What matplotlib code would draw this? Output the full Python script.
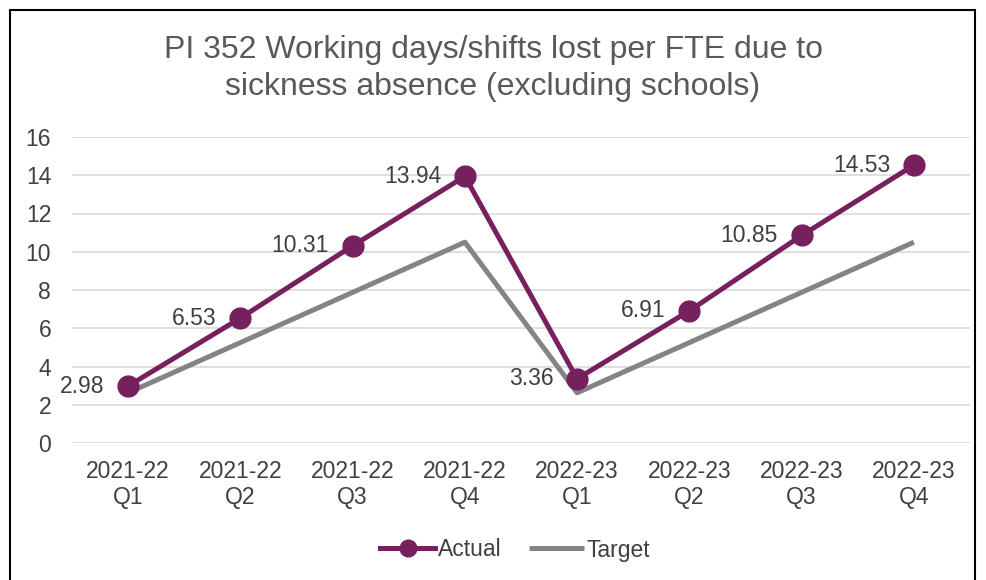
import matplotlib
matplotlib.use("Agg")
import matplotlib.pyplot as plt
from matplotlib.patches import Rectangle

plt.rcParams['font.family'] = ['Liberation Sans', 'DejaVu Sans']

categories = ["2021-22\nQ1", "2021-22\nQ2", "2021-22\nQ3", "2021-22\nQ4",
              "2022-23\nQ1", "2022-23\nQ2", "2022-23\nQ3", "2022-23\nQ4"]
actual = [2.98, 6.53, 10.31, 13.94, 3.36, 6.91, 10.85, 14.53]
target = [2.625, 5.25, 7.875, 10.5, 2.625, 5.25, 7.875, 10.5]
yticks = [0, 2, 4, 6, 8, 10, 12, 14, 16]

purple = "#76205e"
gray = "#848484"
txt = "#404040"
fs = 16.5

fig = plt.figure(figsize=(9.86, 5.8), dpi=100)
fig.patch.set_facecolor("white")
fig.patches.append(Rectangle((10/986, -0.1), 965/986, 1 - 10/580 + 0.1,
                             transform=fig.transFigure, fill=False,
                             edgecolor="black", linewidth=1.5))

ax = fig.add_axes([72/986, 1 - 443/580, 898/986, 306/580])
x = list(range(len(categories)))
ax.plot(x, actual, color=purple, lw=3.6, marker="o", markersize=15, zorder=3, label="Actual")
ax.plot(x, target, color=gray, lw=3.6, zorder=2, label="Target", solid_capstyle="butt")

for xi, v in zip(x, actual):
    ax.annotate(f"{v:.2f}", (xi, v), xytext=(-17, 0), textcoords="offset points",
                ha="right", va="center", fontsize=fs, color=txt, zorder=4)

ax.set_xlim(-0.5, 7.5)
ax.set_ylim(0, 16)
ax.set_yticks(yticks)
ax.set_xticks(x)
ax.set_xticklabels(categories, fontsize=fs, color=txt, linespacing=1.2)
ax.tick_params(axis="y", labelsize=fs, labelcolor=txt, length=0, pad=15)
ax.tick_params(axis="x", length=0, pad=12)
ax.grid(axis="y", color="#d9d9d9", lw=1.2)
ax.set_axisbelow(True)
for s in ax.spines.values():
    s.set_visible(False)

fig.text(0.5, 1 - 50/580, "PI 352 Working days/shifts lost per FTE due to",
         ha="center", va="center", fontsize=23, color="#595959")
fig.text(0.5, 1 - 87/580, "sickness absence (excluding schools)",
         ha="center", va="center", fontsize=23, color="#595959")

leg = fig.legend(loc="center", bbox_to_anchor=(515/986, 1 - 550/580), ncol=2,
                 frameon=False, fontsize=fs, handlelength=2.4, handletextpad=0.1,
                 columnspacing=1.2, markerscale=0.8)
for t in leg.get_texts():
    t.set_color(txt)

fig.savefig("out.png", dpi=100)
